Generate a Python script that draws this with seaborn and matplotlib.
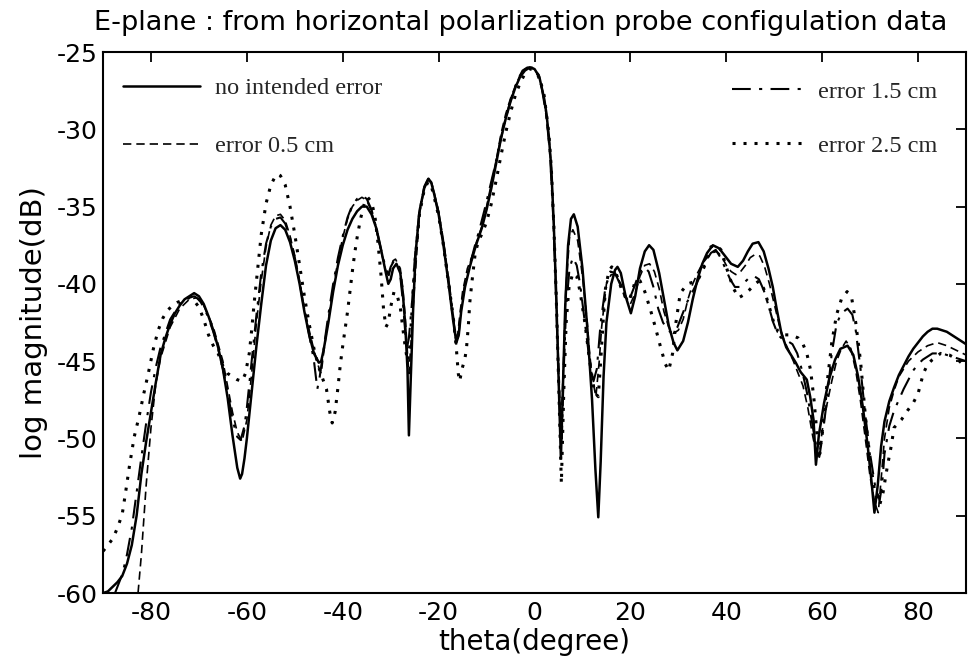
import matplotlib
matplotlib.use("Agg")
import matplotlib.pyplot as plt
import seaborn as sns
import pandas as pd

title = "E-plane : from horizontal polarlization probe configulation data"
x_label = "theta(degree)"
y_label = "log magnitude(dB)"
series_labels = ["no intended error", "error 0.5 cm", "error 1.5 cm", "error 2.5 cm"]
x_ticks = [-80, -60, -40, -20, 0, 20, 40, 60, 80]
y_ticks = [-60, -55, -50, -45, -40, -35, -30, -25]

# ---- no intended error (solid) ----
theta_solid = [-90, -89, -88, -87, -86, -85, -84, -83, -82, -81, -80, -79, -78, -77, -76, -75, -74, -73, -72, -71,
               -70, -69, -68, -67, -66, -65, -64, -63, -62, -61.4, -61, -60.5, -60, -59, -58, -57, -56, -55, -54, -53,
               -52, -51, -50, -49, -48, -47, -46, -45, -44.5, -44, -43, -42, -41, -40, -39, -38, -37, -36, -35, -34,
               -33, -32, -31, -30.5, -30, -29.5, -28.8, -28, -27.5, -27, -26.5, -26.2, -25.8, -25.3, -24.8, -24, -23,
               -22.1, -21.5, -21, -20, -19, -18, -17, -16.3, -15.8, -15.3, -14.5, -13.5, -12.5, -12, -11, -10, -9, -8,
               -7, -6, -5, -4, -3, -2, -1, 0, 1, 2, 2.5, 3, 3.5, 4, 4.5, 5, 5.5, 5.9, 6.4, 7, 7.6, 8.2, 9, 10, 11, 12,
               12.7, 13.3, 13.8, 14.4, 15, 16, 16.8, 17.3, 18, 19, 20.1, 21, 22, 23, 23.9, 24.8, 26, 27, 28, 29, 29.8,
               31, 32, 33, 34, 35, 36, 37.2, 38.5, 40, 41, 42.4, 43.5, 44.5, 45.5, 46.7, 47.8, 48.8, 49.7, 50.5, 51.5,
               52.5, 53.5, 54.5, 55.5, 56.8, 57.5, 58.2, 58.7, 59.3, 60.4, 61.5, 62.7, 63.8, 65.3, 66.5, 67.5, 68.5,
               69.5, 70.3, 70.9, 71.6, 72.3, 73, 74, 75, 76, 77, 78, 79, 80, 81, 82, 83, 84, 85, 86, 87, 88, 89, 90]
db_solid = [-60.0, -59.9, -59.6, -59.3, -58.9, -58.1, -56.9, -55.0, -52.3, -50.2, -48.3, -46.4, -44.6, -43.5, -42.6,
            -41.9, -41.4, -41.0, -40.8, -40.6, -40.8, -41.3, -42.1, -43.0, -44.1, -45.5, -47.4, -49.8, -51.9, -52.6,
            -52.3, -51.3, -50.0, -47.0, -44.0, -41.3, -38.8, -37.2, -36.4, -36.2, -36.5, -37.3, -38.5, -40.0, -41.8,
            -43.3, -44.5, -45.1, -45.0, -44.3, -42.5, -40.5, -38.8, -37.5, -36.5, -35.8, -35.3, -35.0, -35.0, -35.5,
            -36.4, -37.8, -39.3, -40.0, -39.7, -39.0, -38.7, -39.3, -40.5, -42.5, -45.5, -49.8, -46.0, -41.5, -38.0,
            -35.3, -33.8, -33.2, -33.5, -34.1, -35.5, -37.5, -39.8, -42.3, -43.8, -43.3, -41.8, -40.2, -38.9, -37.8,
            -37.3, -36.4, -35.2, -33.8, -32.2, -30.6, -29.3, -28.2, -27.3, -26.6, -26.2, -26.0, -26.1, -26.6, -28.0,
            -29.0, -30.5, -32.5, -36.0, -40.5, -46.0, -51.3, -47.0, -41.5, -37.5, -35.8, -35.5, -36.3, -39.0, -42.8,
            -47.5, -52.0, -55.1, -51.5, -46.0, -42.5, -40.0, -39.1, -38.9, -39.3, -40.8, -41.9, -40.8, -39.0, -37.9,
            -37.5, -37.8, -39.3, -41.0, -42.7, -43.8, -44.3, -43.7, -42.5, -41.0, -39.7, -38.7, -38.0, -37.5, -37.7,
            -38.3, -38.7, -38.9, -38.5, -37.9, -37.4, -37.3, -37.9, -39.0, -40.2, -41.6, -43.2, -44.1, -44.6, -45.1,
            -45.7, -46.2, -47.3, -48.8, -51.7, -49.8, -47.7, -46.1, -44.9, -44.2, -44.0, -44.6, -46.0, -48.0, -50.5,
            -52.8, -54.8, -53.0, -50.5, -48.9, -47.6, -46.7, -45.9, -45.3, -44.7, -44.2, -43.8, -43.4, -43.1, -42.9,
            -42.9, -43.0, -43.1, -43.3, -43.5, -43.7, -43.9]

# ---- error 0.5 cm (dashed) ----
theta_e05 = [-82.7, -82, -81, -80, -79, -78, -76, -74, -72, -70.5, -69, -67, -65, -63, -62, -61, -60, -59, -58, -57,
             -56, -55, -54, -53, -52, -51, -50, -49, -48, -47, -46, -45, -44.5, -44, -43, -42, -41, -40, -39, -38, -37,
             -36, -35, -34, -33, -32, -31, -30.5, -30, -29.5, -29, -28, -27.5, -27, -26.5, -26.2, -25.8, -25, -24, -23,
             -22.2, -21.5, -21, -20, -19, -18, -17, -16.5, -16, -15.5, -15, -14, -13, -12, -11, -10, -9, -8, -7, -6,
             -5, -4, -3, -2, -1, 0, 1, 2, 3, 3.5, 4, 4.5, 5, 5.5, 6, 6.5, 7.3, 8, 9, 10, 11, 11.5, 12, 12.8, 13.5, 14,
             15, 16, 17, 18, 19, 20, 21, 22, 23, 24, 25, 26, 27, 28, 29, 30, 31, 32, 33, 34, 35, 36, 37, 38, 39, 40,
             41, 42, 43, 44, 45, 46, 47, 48, 49, 50, 51, 52, 53, 54, 55, 56, 57, 58, 58.8, 59.5, 60, 61, 62, 63, 64,
             65, 66, 67, 68, 69, 70, 71, 71.7, 72.2, 73, 74, 75, 76, 78, 80, 82, 84, 86, 88, 90]
db_e05 = [-60.0, -57.5, -53.0, -49.3, -46.5, -44.8, -42.8, -41.6, -41.0, -40.9, -41.4, -42.8, -45.0, -48.3, -49.6,
          -50.2, -48.8, -45.8, -42.5, -39.8, -37.6, -36.2, -35.6, -35.5, -35.9, -36.9, -38.2, -39.8, -41.6, -43.0,
          -44.3, -45.4, -45.8, -44.5, -42.3, -40.3, -38.5, -37.0, -35.8, -35.0, -34.6, -34.4, -34.6, -35.3, -36.5,
          -37.9, -39.2, -39.6, -39.0, -38.5, -38.4, -39.0, -40.2, -42.0, -44.5, -45.8, -44.0, -40.0, -35.5, -33.8,
          -33.2, -33.4, -34.0, -35.3, -37.2, -39.5, -42.0, -43.5, -43.2, -41.8, -40.5, -39.0, -38.2, -37.2, -36.3,
          -35.0, -33.5, -32.0, -30.3, -29.0, -28.0, -27.2, -26.5, -26.1, -26.0, -26.1, -26.6, -28.0, -30.5, -32.5,
          -36.0, -40.5, -45.0, -49.5, -45.5, -40.5, -37.0, -36.5, -37.2, -39.5, -42.5, -44.5, -46.0, -47.3, -45.0,
          -42.8, -40.0, -39.4, -39.4, -40.0, -40.8, -41.3, -40.6, -39.5, -38.8, -38.7, -39.2, -40.3, -41.8, -42.8,
          -43.2, -43.0, -42.3, -41.0, -40.0, -39.3, -38.7, -38.3, -38.0, -37.9, -38.2, -38.8, -39.2, -39.4, -39.2,
          -38.8, -38.3, -38.1, -38.2, -38.9, -40.0, -41.3, -42.6, -43.6, -44.3, -45.0, -45.8, -46.6, -48.0, -49.8,
          -51.0, -50.8, -49.5, -47.8, -46.3, -45.0, -44.2, -43.7, -44.2, -45.6, -47.6, -50.0, -52.5, -54.2, -54.8,
          -53.0, -50.0, -48.0, -46.9, -46.0, -45.0, -44.4, -44.0, -43.8, -44.0, -44.3, -44.6]

# ---- error 1.5 cm (dash-dot) ----
theta_e15 = [-87.5, -86, -85, -84, -83, -82, -81, -80, -79, -78, -76, -74, -72, -71, -70, -69, -68, -67, -66, -65,
             -64, -63, -62, -61.3, -60.5, -60, -59, -58, -57, -56, -55, -54, -53, -52, -51, -50, -49, -48, -47, -46,
             -45.3, -44.8, -44, -43, -42, -41, -40, -39, -38, -37, -36, -35, -34, -33, -32, -31, -30.5, -30, -29.3,
             -28.5, -28, -27.5, -27, -26.7, -26.2, -25.5, -25, -24, -23, -22.2, -21.5, -21, -20, -19, -18, -17, -16.3,
             -15.8, -15.3, -14.5, -13.5, -12.5, -11.5, -10.5, -9.5, -8.5, -7.5, -6.5, -5.5, -4.5, -3.5, -2.5, -1.5,
             -0.5, 0.5, 1.5, 2.5, 3.2, 3.8, 4.3, 4.8, 5.3, 5.7, 6.1, 6.6, 7.3, 8, 8.8, 9.5, 10.5, 11.5, 12.3, 13, 13.8,
             14.8, 15.8, 16.8, 17.8, 18.8, 19.8, 20.8, 21.8, 22.8, 23.8, 24.8, 25.8, 26.8, 27.8, 28.8, 29.8, 30.8,
             31.8, 32.8, 33.8, 34.8, 35.8, 36.8, 37.8, 38.8, 39.8, 40.8, 41.8, 42.8, 43.8, 44.8, 45.8, 46.8, 47.8,
             48.8, 49.8, 50.8, 51.8, 52.8, 53.8, 54.8, 55.8, 56.8, 57.8, 58.8, 59.4, 60, 61, 62, 63, 64, 65.3, 66.3,
             67, 68, 69, 70, 71, 72, 72.5, 73, 74, 75, 76, 77, 78, 79, 80, 81, 82, 83, 84, 85, 86, 87, 88, 89, 90]
db_e15 = [-60.0, -58.8, -57.5, -55.8, -53.5, -51.2, -49.0, -47.0, -45.4, -44.1, -42.3, -41.3, -40.9, -40.8, -41.0,
          -41.5, -42.2, -43.1, -44.2, -45.5, -47.0, -48.8, -49.9, -50.1, -49.2, -48.0, -45.0, -42.0, -39.3, -37.4,
          -36.3, -35.8, -35.7, -36.1, -37.0, -38.3, -39.9, -41.7, -43.3, -45.0, -46.8, -46.0, -44.2, -42.0, -40.0,
          -38.3, -36.9, -35.7, -34.9, -34.5, -34.3, -34.5, -35.2, -36.4, -37.8, -39.0, -39.4, -38.9, -38.5, -38.7,
          -39.5, -41.0, -43.0, -44.3, -43.5, -41.0, -38.5, -35.3, -33.7, -33.2, -33.5, -34.1, -35.4, -37.3, -39.6,
          -42.0, -44.0, -43.2, -41.5, -40.0, -38.8, -37.6, -36.5, -35.3, -34.0, -32.7, -31.3, -29.9, -28.7, -27.6,
          -26.8, -26.2, -26.0, -26.0, -26.4, -27.3, -29.2, -31.5, -35.0, -39.0, -44.0, -48.5, -50.0, -45.5, -41.5,
          -39.0, -38.3, -38.8, -40.0, -42.5, -45.0, -46.3, -45.5, -42.5, -40.2, -39.2, -39.3, -40.0, -40.8, -41.0,
          -40.2, -39.3, -38.9, -39.2, -40.2, -41.6, -42.5, -43.0, -43.2, -42.8, -42.0, -41.2, -40.6, -40.0, -39.3,
          -38.5, -38.0, -37.8, -38.3, -39.0, -39.7, -40.2, -40.2, -39.9, -39.6, -39.5, -39.7, -40.4, -41.4, -42.5,
          -43.3, -43.6, -43.7, -43.9, -44.5, -45.6, -47.0, -48.8, -50.6, -51.2, -50.0, -47.5, -44.5, -42.6, -41.9,
          -41.6, -42.0, -43.0, -45.5, -48.5, -51.0, -53.0, -54.0, -53.0, -51.0, -49.2, -48.2, -47.5, -46.8, -46.2,
          -45.6, -45.2, -44.9, -44.7, -44.5, -44.5, -44.5, -44.6, -44.7, -44.8, -44.9, -45.0]

# ---- error 2.5 cm (dotted) ----
theta_e25 = [-90, -89, -88, -87, -86, -85.3, -84.5, -83.5, -82.5, -81.5, -80.5, -79.5, -78.5, -77.5, -76.5, -75.5,
             -74.5, -73, -72, -71, -70, -69, -68, -67, -66, -65, -64, -63, -62, -61, -60.3, -59.5, -59, -58.5, -58,
             -57.5, -57, -56, -55, -54, -53.5, -53, -52, -51, -50, -49, -48, -47, -46, -45, -44, -43.4, -42.7, -42.2,
             -41.6, -41, -40.5, -40, -39, -38.5, -38, -37.5, -37, -36.3, -35.5, -34.8, -34, -33.3, -32.7, -32, -31.5,
             -31, -30.5, -30, -29.3, -28.7, -28, -27.5, -27, -26.5, -26, -25.5, -25, -24, -23, -22.2, -21.5, -21, -20,
             -19, -18, -17, -16.3, -15.9, -15.6, -15.2, -14.5, -14.2, -13.8, -13.5, -13.1, -12.4, -11.7, -11, -10, -9,
             -8, -7, -6, -5, -4, -3, -2, -1, 0, 1, 2, 3, 3.5, 4, 4.5, 5, 5.6, 6.1, 6.6, 7.2, 8, 8.8, 9.5, 10.5, 11.5,
             12.5, 13.3, 13.8, 14.3, 14.8, 15.5, 16.1, 17, 18, 19, 19.7, 20.5, 21, 22, 23, 24.2, 25.2, 26.3, 27.3, 28,
             28.8, 29.5, 30.4, 31.9, 34, 35.4, 36.8, 38, 38.9, 40.4, 41.5, 42.6, 43.7, 44.8, 46, 46.9, 47.8, 48.8,
             49.8, 50.8, 52, 53.5, 55, 56, 56.8, 57.6, 58.3, 59, 59.5, 60.2, 61, 62, 63, 64, 65.2, 66.2, 67, 68, 69,
             70, 71, 72, 72.7, 73.6, 74.4, 75, 76.5, 77.8, 79, 80, 81.1, 82, 83, 84.7, 86.5, 88.3, 90]
db_e25 = [-57.3, -56.9, -56.5, -55.8, -54.9, -53.5, -51.8, -49.9, -48.6, -47.1, -45.7, -44.2, -43.0, -42.2, -41.7,
          -41.4, -41.2, -41.0, -40.9, -41.1, -41.5, -42.3, -43.3, -44.0, -44.5, -45.3, -45.8, -46.0, -46.2, -46.3,
          -45.8, -44.5, -43.0, -41.3, -39.8, -38.3, -36.8, -34.8, -33.6, -33.0, -32.9, -33.0, -33.6, -35.0, -36.8,
          -38.8, -40.8, -42.6, -44.2, -45.4, -46.3, -46.8, -48.3, -49.0, -48.3, -46.7, -45.2, -44.0, -41.8, -40.5,
          -39.2, -38.0, -37.0, -35.8, -34.8, -34.4, -34.7, -35.6, -37.2, -39.5, -41.6, -42.8, -42.5, -41.5, -40.5,
          -40.7, -41.5, -42.8, -44.0, -45.0, -44.0, -41.5, -38.8, -35.5, -33.9, -33.4, -33.7, -34.3, -35.6, -37.5,
          -39.8, -42.0, -44.2, -45.8, -46.3, -45.6, -44.8, -44.2, -42.7, -41.2, -40.0, -38.1, -37.2, -36.8, -36.0,
          -34.8, -33.3, -31.7, -30.2, -28.9, -27.8, -27.0, -26.4, -26.1, -26.1, -26.6, -27.8, -30.3, -32.5, -36.0,
          -40.5, -46.0, -52.9, -47.0, -42.5, -40.2, -39.3, -39.5, -40.5, -42.5, -45.0, -47.0, -47.3, -45.0, -42.5,
          -40.3, -39.2, -38.9, -39.3, -40.2, -40.9, -41.1, -40.4, -39.8, -39.8, -40.5, -41.7, -42.8, -44.1, -45.2,
          -45.6, -44.5, -42.5, -40.6, -40.0, -39.8, -38.9, -37.6, -37.5, -37.8, -39.3, -40.3, -40.9, -40.7, -40.4,
          -40.0, -39.8, -40.3, -41.3, -42.4, -43.1, -43.3, -43.3, -43.5, -43.9, -44.5, -45.6, -47.5, -50.0, -51.0,
          -49.0, -46.5, -43.8, -42.0, -41.0, -40.5, -41.0, -42.5, -45.0, -48.5, -51.5, -53.5, -54.3, -53.5, -51.8,
          -50.5, -49.3, -48.8, -48.2, -47.7, -47.1, -45.8, -45.2, -44.9, -44.5, -44.6, -44.9, -45.4]

series = [
    (theta_solid, db_solid),
    (theta_e05, db_e05),
    (theta_e15, db_e15),
    (theta_e25, db_e25),
]
line_styles = ["-", (0, (5, 3)), (0, (9, 4, 1.5, 4)), (0, (1, 2.6))]
line_widths = [1.8, 1.2, 1.5, 2.2]

sns.set_theme(style="white")
plt.rcParams["font.family"] = ["DejaVu Sans"]
plt.rcParams["axes.unicode_minus"] = False

fig = plt.figure(figsize=(9.73, 6.6), dpi=100)
ax = fig.add_axes([0.1059, 0.1015, 0.8869, 0.8197])

for (th, db), lab, ls, lw in zip(series, series_labels, line_styles, line_widths):
    df = pd.DataFrame({"theta": th, "db": db})
    sns.lineplot(data=df, x="theta", y="db", ax=ax, color="black", linestyle=ls,
                 linewidth=lw, label=lab, estimator=None, sort=False)

handles, labels = ax.get_legend_handles_labels()
if ax.get_legend() is not None:
    ax.get_legend().remove()

ax.set_xlim(-90, 90)
ax.set_ylim(-60, -25)
ax.set_xticks(x_ticks)
ax.set_yticks(y_ticks)
ax.set_xticklabels([str(v) for v in x_ticks])
ax.set_yticklabels([str(v) for v in y_ticks])
ax.tick_params(direction="in", length=7, width=1.3, top=True, right=True,
               labelsize=18, colors="black")
ax.tick_params(axis="x", pad=6)
ax.tick_params(axis="y", pad=4)
for sp in ax.spines.values():
    sp.set_color("black")
    sp.set_linewidth(1.5)

ax.set_xlabel(x_label, fontsize=20, color="black", labelpad=2)
ax.set_ylabel(y_label, fontsize=21, color="black", labelpad=6)
ax.set_title(title, fontsize=19.5, color="black", pad=16, x=0.484)

leg_font = {"family": ["Liberation Serif", "DejaVu Serif"], "size": 17.5}
leg1 = ax.legend(handles[:2], labels[:2], loc="upper left", bbox_to_anchor=(0.0232, 0.953),
                 frameon=False, prop=leg_font, handlelength=3.17, handletextpad=0.62,
                 labelspacing=1.48, borderaxespad=0, borderpad=0)
ax.add_artist(leg1)
leg2 = ax.legend(handles[2:], labels[2:], loc="upper left", bbox_to_anchor=(0.7289, 0.947),
                 frameon=False, prop=leg_font, handlelength=3.1, handletextpad=0.45,
                 labelspacing=1.32, borderaxespad=0, borderpad=0)

fig.savefig("out.png", dpi=100)
